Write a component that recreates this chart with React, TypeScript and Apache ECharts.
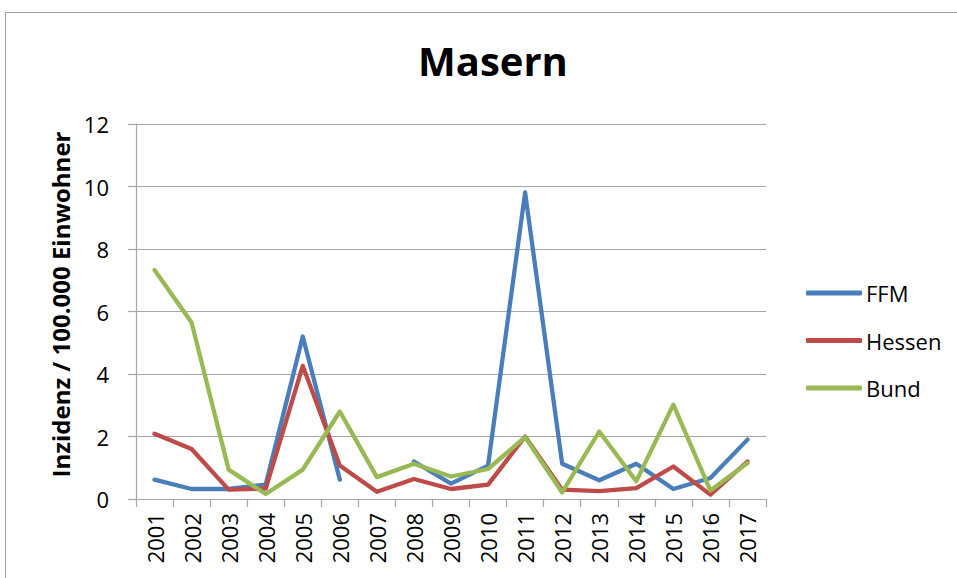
import React, { useEffect, useRef } from "react";
import * as echarts from "echarts";

const years = ["2001","2002","2003","2004","2005","2006","2007","2008","2009","2010","2011","2012","2013","2014","2015","2016","2017"];
const ffm = [0.62, 0.32, 0.32, 0.46, 5.2, 0.62, null, 1.2, 0.49, 1.07, 9.81, 1.13, 0.6, 1.13, 0.32, 0.67, 1.9];
const hessen = [2.09, 1.6, 0.3, 0.33, 4.26, 1.07, 0.23, 0.64, 0.32, 0.46, 2.0, 0.3, 0.25, 0.35, 1.04, 0.14, 1.2];
const bund = [7.33, 5.65, 0.94, 0.16, 0.94, 2.8, 0.7, 1.13, 0.72, 0.96, 1.98, 0.21, 2.16, 0.57, 3.02, 0.27, 1.15];
const yTicks = { min: 0, max: 12, interval: 2 };

const FONT = "'Open Sans', 'Noto Sans', sans-serif";
const GRID_COLOR = "#a6a6a6";

export default function App() {
  const ref = useRef<HTMLDivElement>(null);
  useEffect(() => {
    if (!ref.current) return;
    const chart = echarts.init(ref.current, null, { renderer: "svg" });
    const mk = (name: string, data: (number | null)[], color: string) => ({
      name,
      type: "line",
      data,
      symbol: "none",
      showSymbol: false,
      connectNulls: false,
      color,
      lineStyle: { width: 4.3, color, cap: "round", join: "round" },
    });
    chart.setOption({
      animation: false,
      backgroundColor: "#ffffff",
      textStyle: { fontFamily: FONT },
      title: {
        text: "Masern",
        left: 413,
        top: 35,
        textStyle: { fontFamily: FONT, fontSize: 40, fontWeight: "bold", color: "#000" },
      },
      graphic: [
        {
          type: "rect",
          shape: { x: 5.5, y: 12.5, width: 1000, height: 1000 },
          style: { fill: "none", stroke: "#a0a0a0", lineWidth: 1 },
          silent: true,
        },
      ],
      legend: {
        orient: "vertical",
        left: 806,
        top: 282,
        padding: 0,
        itemWidth: 56,
        itemHeight: 5,
        itemGap: 25.5,
        icon: "roundRect",
        textStyle: { fontFamily: FONT, fontSize: 22, lineHeight: 22, color: "#000", padding: [0, 0, 0, -1] },
        data: ["FFM", "Hessen", "Bund"],
      },
      grid: { left: 136, right: 191, top: 124, bottom: 79, containLabel: false },
      xAxis: {
        type: "category",
        data: years,
        boundaryGap: true,
        axisLine: { lineStyle: { color: GRID_COLOR, width: 1.2 } },
        axisTick: { show: true, length: 8, inside: false, lineStyle: { color: GRID_COLOR, width: 1.2 } },
        axisLabel: {
          rotate: 90,
          margin: 14,
          fontFamily: FONT,
          fontSize: 22,
          color: "#000",
          interval: 0,
        },
        splitLine: { show: false },
      },
      yAxis: {
        type: "value",
        min: yTicks.min,
        max: yTicks.max,
        interval: yTicks.interval,
        name: "Inzidenz / 100.000 Einwohner",
        nameLocation: "middle",
        nameRotate: 90,
        nameGap: 62,
        nameTextStyle: { fontFamily: FONT, fontSize: 24, fontWeight: "bold", color: "#000", padding: [0, 0, 0, 14] },
        axisLine: { show: true, lineStyle: { color: GRID_COLOR, width: 1.2 } },
        axisTick: { show: true, length: 8, lineStyle: { color: GRID_COLOR, width: 1.2 } },
        axisLabel: { margin: 27, fontFamily: FONT, fontSize: 22, color: "#000" },
        splitLine: { show: true, lineStyle: { color: GRID_COLOR, width: 1.2 } },
      },
      series: [
        mk("FFM", ffm, "#4a7ebb"),
        mk("Hessen", hessen, "#be4b48"),
        mk("Bund", bund, "#98b954"),
      ],
    });
    return () => chart.dispose();
  }, []);
  return (
    <div
      ref={ref}
      style={{ position: "fixed", left: 0, top: 0, width: 957, height: 578, background: "#fff" }}
    />
  );
}
